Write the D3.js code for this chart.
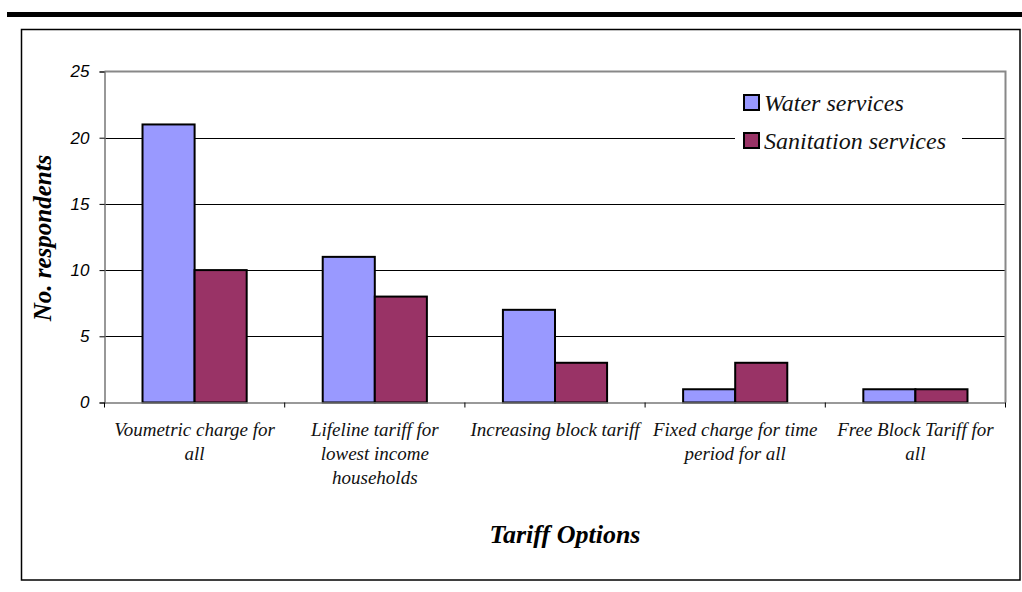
<!DOCTYPE html>
<html>
<head>
<meta charset="utf-8">
<script src="https://cdn.jsdelivr.net/npm/d3@7"></script>
<style>
  html, body { margin: 0; padding: 0; background: #fff; }
  svg { display: block; }
</style>
</head>
<body>
<svg id="chart" width="1022" height="592"></svg>
<script>
// Tariff options and respondent counts
const categories = [
  ["Voumetric charge for", "all"],
  ["Lifeline tariff for", "lowest income", "households"],
  ["Increasing block tariff"],
  ["Fixed charge for time", "period for all"],
  ["Free Block Tariff for", "all"]
];
const seriesNames = ["Water services", "Sanitation services"];
const waterValues = [21, 11, 7, 1, 1];
const sanitationValues = [10, 8, 3, 3, 1];
const yTicks = [0, 5, 10, 15, 20, 25];

const seriesValues = [waterValues, sanitationValues];
const colors = ["#9999FF", "#993366"];
const serif = "'Liberation Serif', 'DejaVu Serif', serif";
const sans = "'Liberation Sans', Arial, sans-serif";

const svg = d3.select("#chart");

// page rule and outer frame
svg.append("rect").attr("x", 7).attr("y", 12).attr("width", 1015).attr("height", 5).attr("fill", "#000");
svg.append("rect").attr("x", 21.5).attr("y", 29.5).attr("width", 998.5).attr("height", 550.5)
  .attr("fill", "none").attr("stroke", "#000").attr("stroke-width", 1.5);

const plot = { left: 104.5, right: 1005.5, top: 71.5, bottom: 402.5 };

const catKeys = categories.map((c, i) => i);
const x0 = d3.scaleBand().domain(catKeys).range([plot.left, plot.right]).padding(0);
const x1 = d3.scaleBand().domain(seriesNames).range([0, x0.bandwidth()])
  .paddingInner(0).paddingOuter(0.73);
const y = d3.scaleLinear().domain([0, 25]).range([plot.bottom, plot.top]);

// gridlines
svg.append("g").selectAll("line").data(yTicks.filter(t => t > 0 && t < 25)).join("line")
  .attr("x1", plot.left).attr("x2", plot.right)
  .attr("y1", d => Math.round(y(d)) + 0.5).attr("y2", d => Math.round(y(d)) + 0.5)
  .attr("stroke", "#000").attr("stroke-width", 1);

// plot area border (grey)
svg.append("path")
  .attr("d", `M${plot.left},${plot.top}H${plot.right}V${plot.bottom}`)
  .attr("fill", "none").attr("stroke", "#888").attr("stroke-width", 2);

// bars
const groups = svg.append("g").selectAll("g").data(catKeys).join("g")
  .attr("transform", d => `translate(${x0(d)},0)`);
groups.selectAll("rect")
  .data(i => seriesNames.map((s, k) => ({ s, k, v: seriesValues[k][i] })))
  .join("rect")
  .attr("x", d => x1(d.s))
  .attr("y", d => y(d.v))
  .attr("width", x1.bandwidth())
  .attr("height", d => y(0) - y(d.v))
  .attr("fill", d => colors[d.k])
  .attr("stroke", "#000").attr("stroke-width", 2);

// y axis
const yAxis = d3.axisLeft(y).tickValues(yTicks).tickSize(5).tickPadding(10);
const gy = svg.append("g").attr("transform", `translate(${plot.left},0)`).call(yAxis);
gy.select(".domain").attr("stroke", "#777").attr("stroke-width", 1.5);
gy.selectAll(".tick line").attr("stroke", "#000");
gy.selectAll(".tick text").attr("font-family", sans).attr("font-style", "italic")
  .attr("font-size", 17).attr("fill", "#000");

// x axis
const xAxis = d3.axisBottom(x0).tickValues([]).tickSizeOuter(0);
const gx = svg.append("g").attr("transform", `translate(0,${plot.bottom})`).call(xAxis);
gx.select(".domain").attr("stroke", "#777").attr("stroke-width", 1.5);
const boundaries = catKeys.map(k => x0(k)).concat([plot.right]);
gx.selectAll("line.sep").data(boundaries).join("line").attr("class", "sep")
  .attr("x1", d => d).attr("x2", d => d).attr("y1", 0).attr("y2", 5)
  .attr("stroke", "#000");

// category labels
const lab = svg.append("g").selectAll("text").data(catKeys).join("text")
  .attr("x", d => x0(d) + x0.bandwidth() / 2)
  .attr("y", 436)
  .attr("text-anchor", "middle")
  .attr("font-family", serif).attr("font-style", "italic").attr("font-size", 19)
  .attr("fill", "#111");
lab.selectAll("tspan").data(d => categories[d]).join("tspan")
  .attr("x", function () { return d3.select(this.parentNode).attr("x"); })
  .attr("dy", (d, i) => i === 0 ? 0 : 24)
  .text(d => d);

// axis titles
svg.append("text").attr("x", 565).attr("y", 543).attr("text-anchor", "middle")
  .attr("font-family", serif).attr("font-style", "italic").attr("font-weight", "bold")
  .attr("font-size", 26).text("Tariff Options");
svg.append("text").attr("transform", `translate(51,238) rotate(-90)`).attr("text-anchor", "middle")
  .attr("font-family", serif).attr("font-style", "italic").attr("font-weight", "bold")
  .attr("font-size", 25).text("No. respondents");

// legend
const legend = svg.append("g");
legend.append("rect").attr("x", 735).attr("y", 84).attr("width", 227).attr("height", 76).attr("fill", "#fff");
const li = legend.selectAll("g").data(seriesNames).join("g")
  .attr("transform", (d, i) => `translate(744,${95 + i * 38})`);
li.append("rect").attr("width", 15).attr("height", 15)
  .attr("fill", (d, i) => colors[i]).attr("stroke", "#000").attr("stroke-width", 2);
li.append("text").attr("x", 20).attr("y", 16)
  .attr("font-family", serif).attr("font-style", "italic").attr("font-size", 24)
  .attr("fill", "#111").text(d => d);
</script>
</body>
</html>
